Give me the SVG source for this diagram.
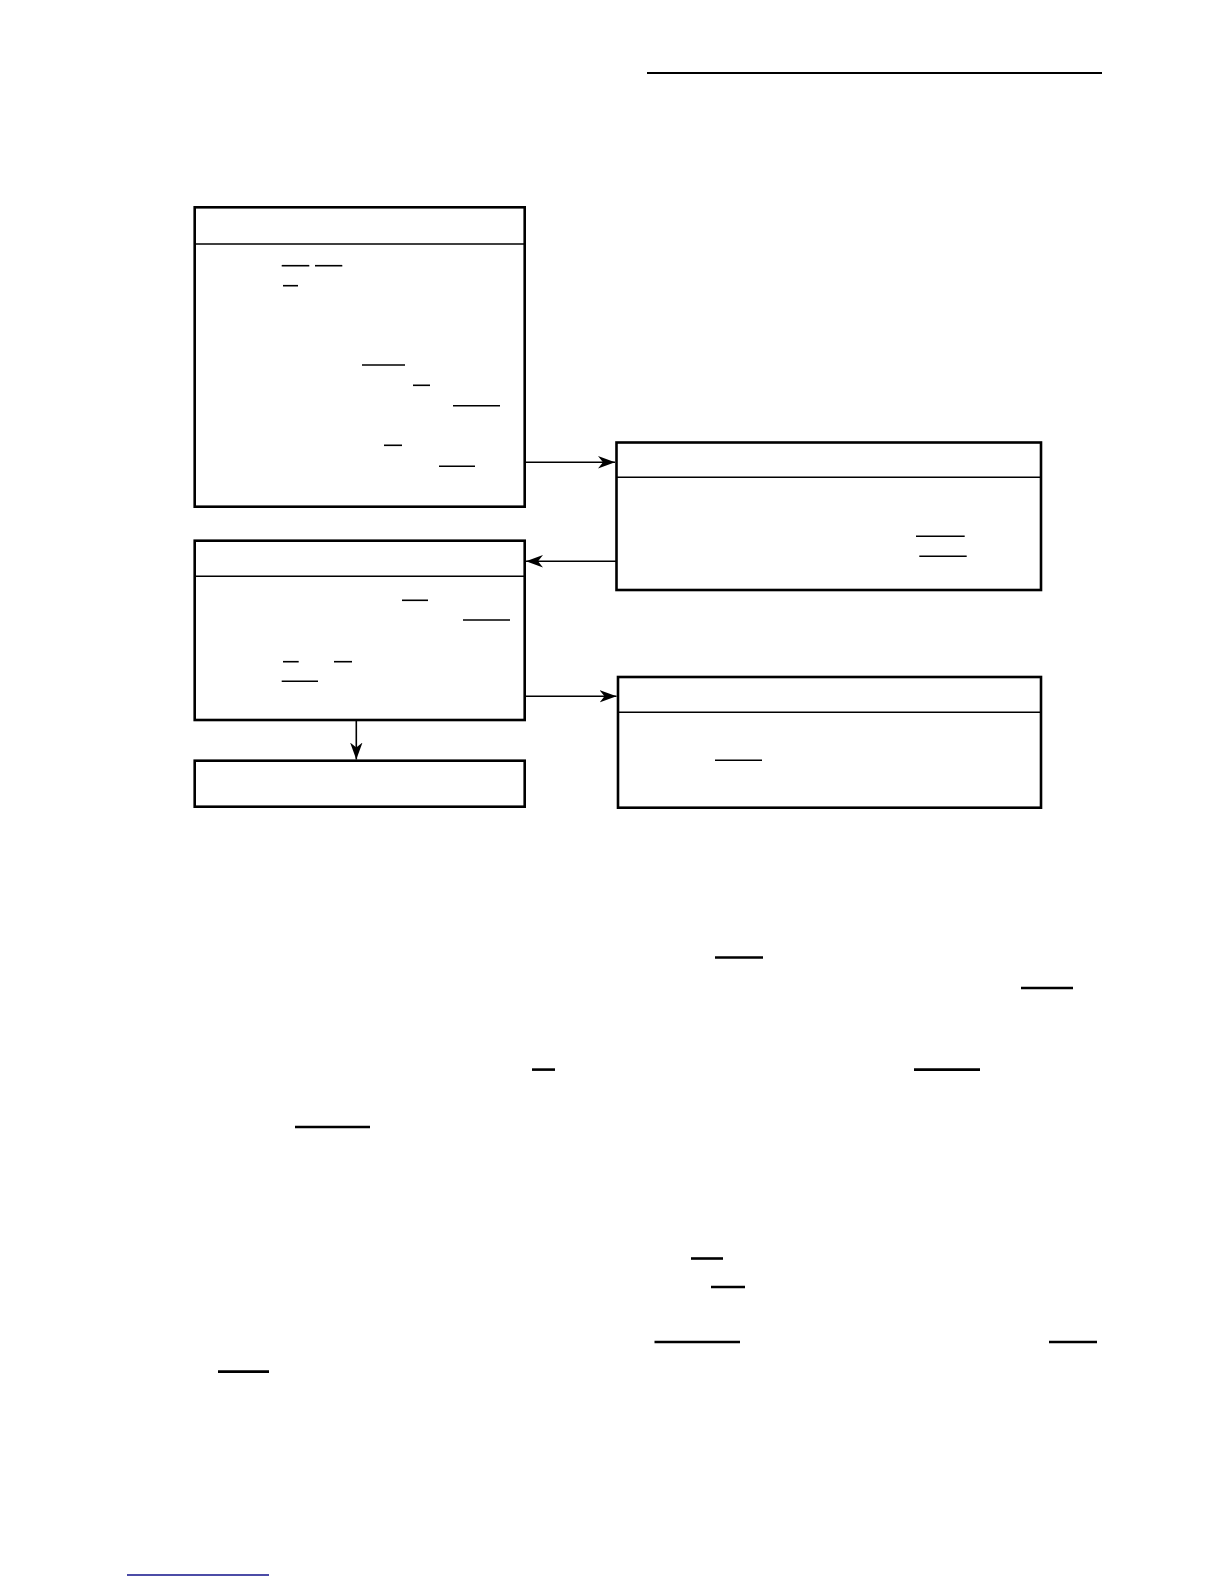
<svg xmlns="http://www.w3.org/2000/svg" width="1224" height="1584" viewBox="0 0 1224 1584">
<style>
.box{fill:#fff;stroke:#000;stroke-width:2.6}
.hdr{stroke:#000;stroke-width:1.6}
.ul{stroke:#000;stroke-width:1.6}
.ult{stroke:#000;stroke-width:2.6}
.con{stroke:#000;stroke-width:1.6;fill:none}
</style>
<defs>
<marker id="ah" markerUnits="userSpaceOnUse" markerWidth="18" markerHeight="14" refX="17" refY="7" orient="auto">
<path d="M0,0.8 L17,7 L0,13.2 L5,7 Z" fill="#000"/>
</marker>
</defs>
<rect width="1224" height="1584" fill="#fff"/>
<line x1="647" y1="73" x2="1102" y2="73" stroke="#000" stroke-width="2"/>

<g id="node1">
<rect class="box" x="194.7" y="207.3" width="330" height="299.4"/>
<line class="hdr" x1="194.7" y1="244" x2="524.7" y2="244"/>
<line class="ul" x1="281.7" y1="265.7" x2="309.3" y2="265.7"/>
<line class="ul" x1="315" y1="265.7" x2="342.3" y2="265.7"/>
<line class="ul" x1="283" y1="285.7" x2="298" y2="285.7"/>
<line class="ul" x1="362" y1="365" x2="405" y2="365"/>
<line class="ul" x1="413" y1="385.3" x2="430" y2="385.3"/>
<line class="ul" x1="453" y1="405.7" x2="500" y2="405.7"/>
<line class="ul" x1="384" y1="445.3" x2="402" y2="445.3"/>
<line class="ul" x1="439" y1="466.3" x2="475" y2="466.3"/>
</g>

<g id="node2">
<rect class="box" x="194.7" y="540.7" width="330" height="179.3"/>
<line class="hdr" x1="194.7" y1="576.3" x2="524.7" y2="576.3"/>
<line class="ul" x1="402" y1="600.3" x2="428" y2="600.3"/>
<line class="ul" x1="463" y1="620" x2="510" y2="620"/>
<line class="ul" x1="283" y1="661.7" x2="298.7" y2="661.7"/>
<line class="ul" x1="334" y1="661.7" x2="352" y2="661.7"/>
<line class="ul" x1="281.7" y1="681.3" x2="318" y2="681.3"/>
</g>

<g id="node3">
<rect class="box" x="194.7" y="760.7" width="330" height="46"/>
</g>

<g id="node4">
<rect class="box" x="616.5" y="442.5" width="424.5" height="147.5"/>
<line class="hdr" x1="616.5" y1="477.3" x2="1041" y2="477.3"/>
<line class="ul" x1="916" y1="536.3" x2="964.7" y2="536.3"/>
<line class="ul" x1="919.3" y1="556.3" x2="966.7" y2="556.3"/>
</g>

<g id="node5">
<rect class="box" x="618" y="677" width="423" height="130.7"/>
<line class="hdr" x1="618" y1="712.3" x2="1041" y2="712.3"/>
<line class="ul" x1="715" y1="760.3" x2="762" y2="760.3"/>
</g>

<g id="connectors">
<line class="con" x1="526" y1="462.3" x2="615" y2="462.3" marker-end="url(#ah)"/>
<line class="con" x1="616" y1="561.3" x2="526" y2="561.3" marker-end="url(#ah)"/>
<line class="con" x1="526" y1="696.3" x2="616.5" y2="696.3" marker-end="url(#ah)"/>
<line class="con" x1="356.3" y1="721" x2="356.3" y2="759.5" marker-end="url(#ah)"/>
</g>

<g id="text-underlines">
<line class="ult" x1="715" y1="957.5" x2="763" y2="957.5"/>
<line class="ult" x1="1021" y1="988" x2="1073" y2="988"/>
<line class="ult" x1="532" y1="1069.6" x2="555" y2="1069.6"/>
<line class="ult" x1="914" y1="1069.6" x2="980" y2="1069.6"/>
<line class="ult" x1="295" y1="1127" x2="370" y2="1127"/>
<line class="ult" x1="691" y1="1258.5" x2="723" y2="1258.5"/>
<line class="ult" x1="711" y1="1287" x2="745" y2="1287"/>
<line class="ult" x1="654.5" y1="1342" x2="740" y2="1342"/>
<line class="ult" x1="1049" y1="1342" x2="1097" y2="1342"/>
<line class="ult" x1="218" y1="1371.6" x2="269" y2="1371.6"/>
</g>

<line x1="127" y1="1575" x2="269" y2="1575" stroke="#10108a" stroke-width="1.6"/>
</svg>
